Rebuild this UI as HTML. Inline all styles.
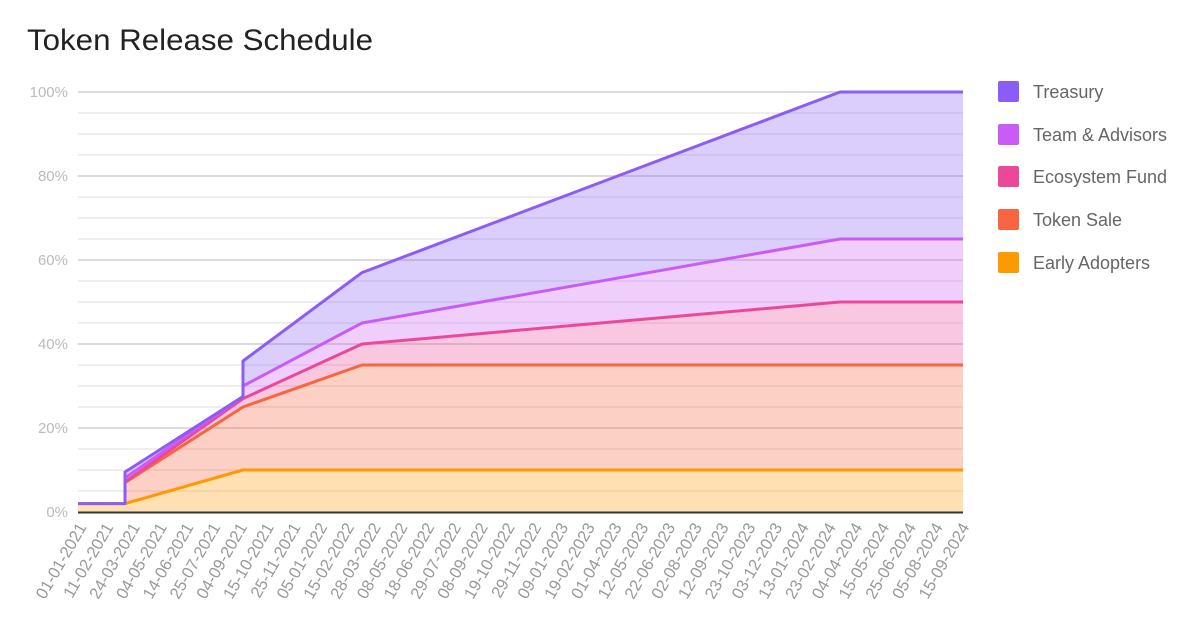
<!DOCTYPE html>
<html><head><meta charset="utf-8"><style>
html,body{margin:0;padding:0;background:#fff;}
svg{display:block;font-family:"Liberation Sans",Arial,sans-serif;}
</style></head><body>
<svg width="1200" height="625" viewBox="0 0 1200 625" xmlns="http://www.w3.org/2000/svg">
<rect width="1200" height="625" fill="#fff"/>
<text x="27" y="50" font-size="30" fill="#222" textLength="346" lengthAdjust="spacingAndGlyphs">Token Release Schedule</text>
<g stroke="#e3e3e3" stroke-width="1.3">
<line x1="78" x2="963" y1="113" y2="113"/><line x1="78" x2="963" y1="134" y2="134"/><line x1="78" x2="963" y1="155" y2="155"/>
<line x1="78" x2="963" y1="197" y2="197"/><line x1="78" x2="963" y1="218" y2="218"/><line x1="78" x2="963" y1="239" y2="239"/>
<line x1="78" x2="963" y1="281" y2="281"/><line x1="78" x2="963" y1="302" y2="302"/><line x1="78" x2="963" y1="323" y2="323"/>
<line x1="78" x2="963" y1="365" y2="365"/><line x1="78" x2="963" y1="386" y2="386"/><line x1="78" x2="963" y1="407" y2="407"/>
<line x1="78" x2="963" y1="449" y2="449"/><line x1="78" x2="963" y1="470" y2="470"/><line x1="78" x2="963" y1="491" y2="491"/>
</g>
<g stroke="#cfcfcf" stroke-width="1.5">
<line x1="78" x2="963" y1="92" y2="92"/><line x1="78" x2="963" y1="176" y2="176"/><line x1="78" x2="963" y1="260" y2="260"/>
<line x1="78" x2="963" y1="344" y2="344"/><line x1="78" x2="963" y1="428" y2="428"/>
</g>
<g font-size="15" fill="#bbb" text-anchor="end">
<text x="68" y="97">100%</text><text x="68" y="181">80%</text><text x="68" y="265">60%</text>
<text x="68" y="349">40%</text><text x="68" y="433">20%</text><text x="68" y="517">0%</text>
</g>
<g fill-opacity="0.3">
<polygon fill="#8b5cf6" points="125,472 243,396.5 243,361 362,272.6 840,92 963,92 963,239 840,239 362,323 243,386 243,396.5 125,478"/>
<polygon fill="#c95cf6" points="125,478 243,396.5 243,386 362,323 840,239 963,239 963,302 840,302 362,344 243,398.6 125,480"/>
<polygon fill="#ec4899" points="125,480 243,398.6 362,344 840,302 963,302 963,365 362,365 243,407 125,482.6"/>
<polygon fill="#f96540" points="125,503.6 125,482.6 243,407 362,365 963,365 963,470 243,470 125,503.6"/>
<polygon fill="#ff9900" points="78,503.6 125,503.6 243,470 963,470 963,512 78,512"/>
</g>
<g fill="none" stroke-width="3" stroke-linejoin="round">
<polyline stroke="#ff9900" points="78,503.6 125,503.6 243,470 963,470"/>
<polyline stroke="#f96540" points="125,503.6 125,482.6 243,407 362,365 963,365"/>
<polyline stroke="#ec4899" points="125,482 243,398.6 362,344 840,302 963,302"/>
<polyline stroke="#c95cf6" points="125,478 243,396.5 243,386 362,323 840,239 963,239"/>
<polyline stroke="#8b5cf6" points="78,503.6 125,503.6 125,472 243,396.5 243,361 362,272.6 840,92 963,92"/>
</g>
<line x1="78" x2="963" y1="512.5" y2="512.5" stroke="#333" stroke-width="2"/>
<g font-size="16.5" fill="#999" text-anchor="end">
<text transform="translate(87,527) rotate(-60)">01-01-2021</text>
<text transform="translate(113.8,527) rotate(-60)">11-02-2021</text>
<text transform="translate(140.5,527) rotate(-60)">24-03-2021</text>
<text transform="translate(167.3,527) rotate(-60)">04-05-2021</text>
<text transform="translate(194,527) rotate(-60)">14-06-2021</text>
<text transform="translate(220.8,527) rotate(-60)">25-07-2021</text>
<text transform="translate(247.6,527) rotate(-60)">04-09-2021</text>
<text transform="translate(274.3,527) rotate(-60)">15-10-2021</text>
<text transform="translate(301.1,527) rotate(-60)">25-11-2021</text>
<text transform="translate(327.8,527) rotate(-60)">05-01-2022</text>
<text transform="translate(354.6,527) rotate(-60)">15-02-2022</text>
<text transform="translate(381.4,527) rotate(-60)">28-03-2022</text>
<text transform="translate(408.1,527) rotate(-60)">08-05-2022</text>
<text transform="translate(434.9,527) rotate(-60)">18-06-2022</text>
<text transform="translate(461.6,527) rotate(-60)">29-07-2022</text>
<text transform="translate(488.4,527) rotate(-60)">08-09-2022</text>
<text transform="translate(515.2,527) rotate(-60)">19-10-2022</text>
<text transform="translate(541.9,527) rotate(-60)">29-11-2022</text>
<text transform="translate(568.7,527) rotate(-60)">09-01-2023</text>
<text transform="translate(595.4,527) rotate(-60)">19-02-2023</text>
<text transform="translate(622.2,527) rotate(-60)">01-04-2023</text>
<text transform="translate(649,527) rotate(-60)">12-05-2023</text>
<text transform="translate(675.7,527) rotate(-60)">22-06-2023</text>
<text transform="translate(702.5,527) rotate(-60)">02-08-2023</text>
<text transform="translate(729.2,527) rotate(-60)">12-09-2023</text>
<text transform="translate(756,527) rotate(-60)">23-10-2023</text>
<text transform="translate(782.8,527) rotate(-60)">03-12-2023</text>
<text transform="translate(809.5,527) rotate(-60)">13-01-2024</text>
<text transform="translate(836.3,527) rotate(-60)">23-02-2024</text>
<text transform="translate(863,527) rotate(-60)">04-04-2024</text>
<text transform="translate(889.8,527) rotate(-60)">15-05-2024</text>
<text transform="translate(916.6,527) rotate(-60)">25-06-2024</text>
<text transform="translate(943.3,527) rotate(-60)">05-08-2024</text>
<text transform="translate(970,527) rotate(-60)">15-09-2024</text>
</g>
<g>
<rect x="998" y="81" width="21" height="21" rx="2" fill="#8b5cf6"/>
<rect x="998" y="124" width="21" height="21" rx="2" fill="#c95cf6"/>
<rect x="998" y="166" width="21" height="21" rx="2" fill="#ec4899"/>
<rect x="998" y="209" width="21" height="21" rx="2" fill="#f96540"/>
<rect x="998" y="252" width="21" height="21" rx="2" fill="#ff9900"/>
</g>
<g font-size="18" fill="#666">
<text x="1033" y="98">Treasury</text>
<text x="1033" y="141">Team &amp; Advisors</text>
<text x="1033" y="183">Ecosystem Fund</text>
<text x="1033" y="226">Token Sale</text>
<text x="1033" y="269">Early Adopters</text>
</g>
</svg>
</body></html>
